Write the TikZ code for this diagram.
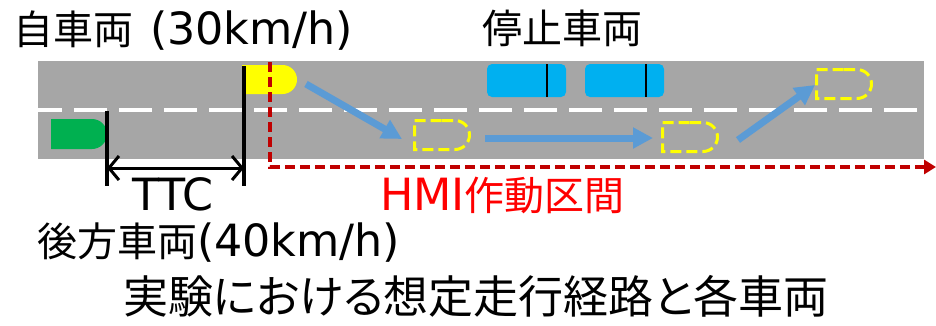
\documentclass[tikz,border=0pt]{standalone}
\usepackage{fontspec}
\setmainfont{DejaVu Sans}[Scale=1.11]
\newfontfamily\cjk{Noto Sans CJK JP}[RawFeature=+palt]
\usetikzlibrary{arrows.meta,shapes.misc}
\definecolor{roadgray}{HTML}{A6A6A6}
\definecolor{carblue}{HTML}{00B0F0}
\definecolor{arrowblue}{HTML}{5B9BD5}
\definecolor{hmired}{HTML}{C00000}
\definecolor{cargreen}{HTML}{00B050}
\definecolor{caryellow}{HTML}{FFFF00}
\begin{document}
\begin{tikzpicture}[x=1pt,y=-1pt,
  car/.style={rounded rectangle, rounded rectangle west arc=none, minimum width=55pt, minimum height=29pt, inner sep=0pt, outer sep=0pt},
  ghost/.style={car, draw=caryellow, line width=3pt, dash pattern=on 11pt off 5pt},
  stopped/.style={fill=carblue, rounded corners=5pt, minimum width=79pt, minimum height=33pt, inner sep=0pt, outer sep=0pt},
  lbl/.style={anchor=base west, inner sep=0pt, outer sep=0pt, font=\fontsize{40}{48}\selectfont},
  movearrow/.style={arrowblue, line width=7pt, -{Triangle[length=20pt,width=20pt]}},
  marker/.style={black, line width=3.5pt},
]
\useasboundingbox (0,0) rectangle (936,325);
% road
\fill[roadgray] (38,61) rectangle (924,159);
\draw[white, line width=4pt, dash pattern=on 33pt off 12pt, dash phase=9pt] (38,110) -- (924,110);
% stopped vehicles
\node[stopped] (s1) at (526.5,80.5) {};
\node[stopped] (s2) at (624.5,80.5) {};
\draw[black, line width=2pt] (547,64) -- (547,97);
\draw[black, line width=2pt] (646,64) -- (646,97);
% own car and rear car
\node[car, fill=caryellow] (own) at (269.5,79.5) {};
\node[car, fill=cargreen, minimum height=30pt, minimum width=56pt] (rear) at (79,134) {};
% ghosts
\node[ghost] (g1) at (442,135) {};
\node[ghost] (g2) at (690,137) {};
\node[ghost] (g3) at (844,84) {};
% HMI section
\coordinate (h0) at (270,62);
\coordinate (h1) at (270,167);
\coordinate (h2) at (936,167);
\draw[hmired, line width=3.5pt, dash pattern=on 10pt off 5pt, -{Triangle[length=12pt,width=14pt]}] (h0) -- (h1) -- (h2);
% TTC markers
\coordinate (m1t) at (107,111);
\coordinate (m1b) at (107,186);
\coordinate (m2t) at (244,66);
\coordinate (m2b) at (244,186);
\draw[marker] (m1t) -- (m1b);
\draw[marker] (m2t) -- (m2b);
\coordinate (t1) at (107,168);
\coordinate (t2) at (244,168);
\draw[black, line width=3pt, {Straight Barb[length=10pt,width=24pt]}-{Straight Barb[length=10pt,width=24pt]}] (t1) -- (t2);
% movement arrows
\coordinate (a1s) at (306,84);
\coordinate (a1e) at (402,139);
\coordinate (a2s) at (485,138);
\coordinate (a2e) at (653,138);
\coordinate (a3s) at (738,140);
\coordinate (a3e) at (815,85);
\draw[movearrow] (a1s) -- (a1e);
\draw[movearrow] (a2s) -- (a2e);
\draw[movearrow] (a3s) -- (a3e);
% labels
\node[lbl] (lown) at (13,44) {{\cjk 自車両}\hspace{3pt} (30km/h)};
\node[lbl] (lstop) at (482,43) {\cjk 停止車両};
\node[lbl] (lttc) at (132,210) {TTC};
\node[lbl, text=red] (lhmi) at (380,210) {HMI{\cjk 作動区間}};
\node[lbl] (lrear) at (37,256) {{\cjk 後方車両}(40km/h)};
\node[lbl, font=\fontsize{45}{54}\selectfont] (title) at (123,313) {\cjk 実験における想定走行経路と各車両};
\end{tikzpicture}
\end{document}
